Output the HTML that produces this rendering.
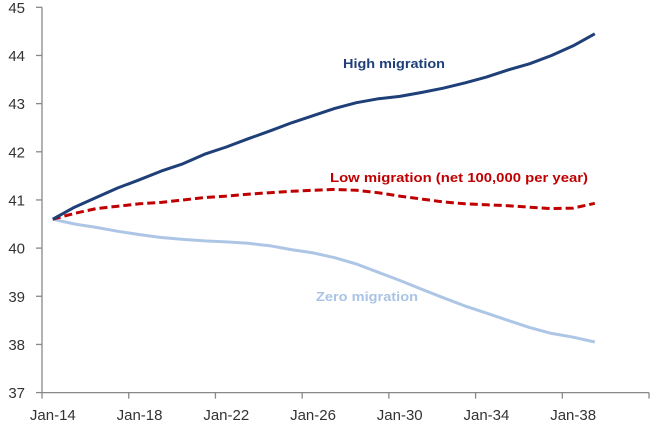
<!DOCTYPE html>
<html><head><meta charset="utf-8"><style>
body{margin:0;background:#fff}
svg{display:block;font-family:"Liberation Sans",sans-serif}
</style></head><body>
<svg id="chart" width="650" height="425"></svg>
<script>
const years = [2014,2015,2016,2017,2018,2019,2020,2021,2022,2023,2024,2025,2026,2027,2028,2029,2030,2031,2032,2033,2034,2035,2036,2037,2038,2039];
const highMigration = [40.6,40.85,41.05,41.25,41.42,41.6,41.75,41.95,42.1,42.27,42.43,42.6,42.75,42.9,43.02,43.1,43.15,43.23,43.32,43.43,43.55,43.7,43.83,44.0,44.2,44.45];
const lowMigration = [40.6,40.72,40.82,40.87,40.92,40.95,41.0,41.05,41.08,41.12,41.15,41.18,41.2,41.22,41.2,41.15,41.08,41.02,40.96,40.92,40.9,40.88,40.85,40.82,40.83,40.93];
const zeroMigration = [40.6,40.5,40.43,40.35,40.28,40.22,40.18,40.15,40.13,40.1,40.05,39.97,39.9,39.8,39.67,39.5,39.33,39.15,38.97,38.8,38.65,38.5,38.35,38.23,38.15,38.05];
const yTicks = [37,38,39,40,41,42,43,44,45];
const xTickLabels = ["Jan-14","Jan-18","Jan-22","Jan-26","Jan-30","Jan-34","Jan-38"];

const NS="http://www.w3.org/2000/svg";
const svg=document.getElementById('chart');
const x0=42, catW=21.68, nCats=28, yTop=7.3, yBot=392.6;
const X=i=>x0+catW*(i+0.5);
const Y=v=>yBot-(v-37)/(45-37)*(yBot-yTop);
function mk(t,a){const e=document.createElementNS(NS,t);for(const k in a)e.setAttribute(k,a[k]);svg.appendChild(e);return e;}

const ya=mk('line',{x1:x0,y1:yTop,x2:x0,y2:yBot,stroke:'#888','stroke-width':1.3});


const xa=mk('line',{x1:x0,y1:yBot,x2:x0+catW*nCats,y2:yBot,stroke:'#888','stroke-width':1.3});



yTicks.forEach(v=>{
  const tk=mk('line',{x1:x0-6,y1:Y(v),x2:x0,y2:Y(v),stroke:'#888','stroke-width':1.3});
  
  
  const t=mk('text',{x:25,y:Y(v)+5.5,'text-anchor':'end','font-size':15,fill:'#333'});
  t.textContent=v;
  
  
});
for(let k=0;k<=nCats;k+=4){
  const tk=mk('line',{x1:x0+catW*k,y1:yBot,x2:x0+catW*k,y2:yBot+6,stroke:'#888','stroke-width':1.3});
  
  
}
xTickLabels.forEach((l,j)=>{
  const t=mk('text',{x:X(j*4),y:420,'text-anchor':'middle','font-size':15,fill:'#333'});
  t.textContent=l;
  
  
});

function series(vals,color,name,dash){
  const d=vals.map((v,i)=>(i?'L':'M')+X(i).toFixed(1)+','+Y(v).toFixed(1)).join('');
  const a={d:d,fill:'none',stroke:color,'stroke-width':3,'stroke-linejoin':'round'};
  if(dash)a['stroke-dasharray']=dash;
  const p=mk('path',a);
  
  
}
series(zeroMigration,'#aec6e6','zero-migration-line');
series(lowMigration,'#c00000','low-migration-line','8,4');
series(highMigration,'#1f3f78','high-migration-line');

function label(txt,x,y,w,color,name){
  const t=mk('text',{x:x,y:y,'font-size':13,'font-weight':'bold',fill:color,textLength:w,lengthAdjust:'spacingAndGlyphs'});
  t.textContent=txt;
  
  
}
label('High migration',343,68,102,'#1f3f78','high-migration-label');
label('Low migration (net 100,000 per year)',330,182,258,'#c00000','low-migration-label');
label('Zero migration',316,301,102,'#a9c4e4','zero-migration-label');
</script>
</body></html>
